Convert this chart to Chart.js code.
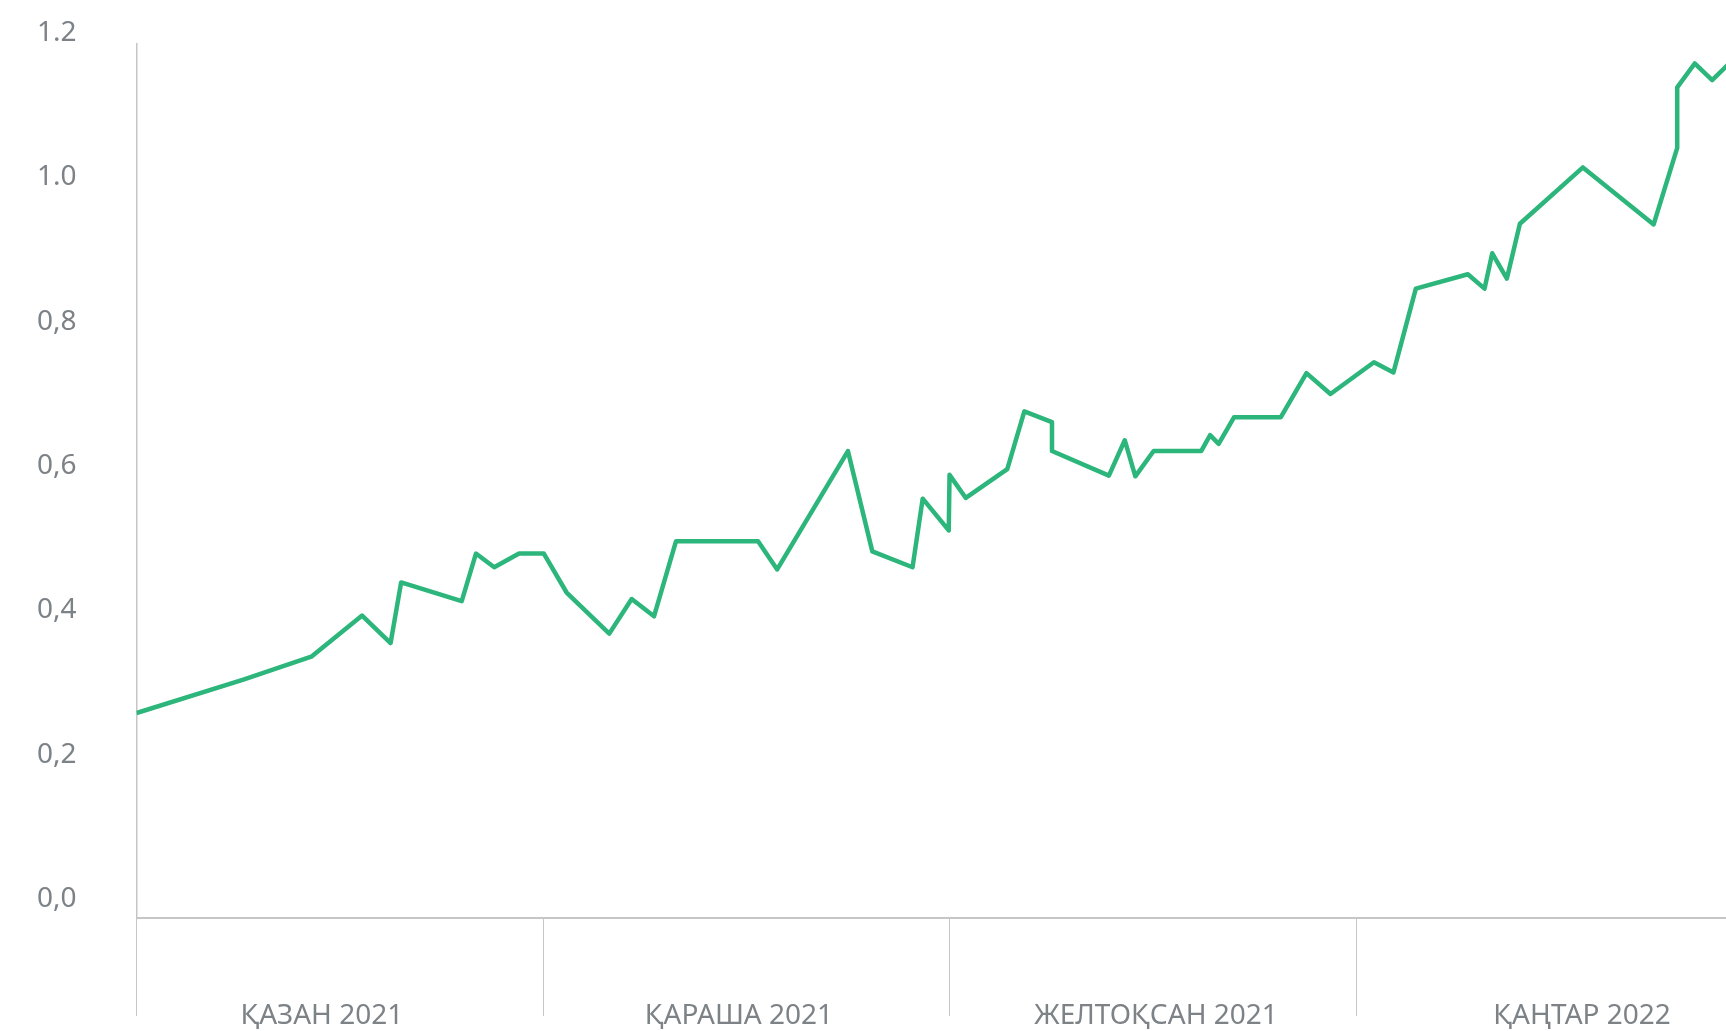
<!DOCTYPE html>
<html>
<head>
<meta charset="utf-8">
<script src="https://cdn.jsdelivr.net/npm/chart.js@4/dist/chart.umd.min.js"></script>
<style>
  html, body { margin: 0; padding: 0; background: #ffffff; }
  #graphCanvas { display: block; }
</style>
</head>
<body>
<canvas id="graphCanvas" width="1726" height="1031"></canvas>
<script>
// position along the time axis, in months from 1 Oct 2021 (each month = 1 unit)
const periodPos = [
    0, 0.261, 0.430, 0.555, 0.625, 0.651, 0.800, 0.835, 0.880, 0.941,
    1.002, 1.058, 1.163, 1.218, 1.273, 1.327, 1.529, 1.576, 1.750, 1.810,
    1.909, 1.934, 1.998, 2.000, 2.040, 2.142, 2.184, 2.252, 2.252, 2.392,
    2.431, 2.457, 2.502, 2.619, 2.641, 2.662, 2.700, 2.815, 2.878, 2.937,
    3.044, 3.092, 3.147, 3.275, 3.316, 3.335, 3.371, 3.403, 3.558, 3.732,
    3.790, 3.790, 3.833, 3.876, 3.929
];
const seriesValues = [
    0.284, 0.330, 0.362, 0.419, 0.381, 0.465, 0.439, 0.505, 0.486, 0.505,
    0.505, 0.451, 0.394, 0.442, 0.418, 0.522, 0.522, 0.483, 0.647, 0.508,
    0.486, 0.581, 0.537, 0.614, 0.582, 0.622, 0.702, 0.687, 0.647, 0.613,
    0.662, 0.612, 0.647, 0.647, 0.669, 0.657, 0.694, 0.694, 0.755, 0.726,
    0.770, 0.756, 0.872, 0.892, 0.872, 0.921, 0.886, 0.962, 1.040, 0.961,
    1.067, 1.151, 1.184, 1.161, 1.190
];

const monthLabels = ["ҚАЗАН 2021", "ҚАРАША 2021", "ЖЕЛТОҚСАН 2021", "ҚАҢТАР 2022"];
const monthLabelPos = [0.456, 1.482, 2.508, 3.556];
const monthStarts = [0, 1, 2, 3];

const yTickValues = [0, 0.2, 0.4, 0.6, 0.8, 1.0, 1.2];
const yTickLabels = ["0,0", "0,2", "0,4", "0,6", "0,8", "1.0", "1.2"];

const lineColor = "#2cb67b";
const textColor = "#7d8286";
const axisColor = "#c6c6c6";

const graphCanvas = document.getElementById("graphCanvas");
const ctx = graphCanvas.getContext("2d");

let points = periodPos.map((p, i) => ({ x: p, y: seriesValues[i] }));

let chart = new Chart(ctx, {
    type: "line",
    data: {
        datasets: [{
            data: points,
            borderColor: lineColor,
            borderWidth: 4.5,
            borderJoinStyle: "round",
            pointRadius: 0,
            tension: 0,
            fill: false,
        }],
    },
    options: {
        responsive: false,
        animation: false,
        devicePixelRatio: 1,
        layout: {
            padding: { left: 37, top: 44, right: 0, bottom: 0 },
        },
        plugins: {
            legend: { display: false },
            tooltip: { enabled: false },
        },
        scales: {
            x: {
                type: "linear",
                position: "bottom",
                min: 0,
                max: 3.910,
                afterBuildTicks: (axis) => {
                    let vals = monthStarts.concat(monthLabelPos).sort((a, b) => a - b);
                    axis.ticks = vals.map((v) => ({ value: v }));
                },
                afterFit: (axis) => { axis.height = 113; },
                border: { display: true, color: axisColor, width: 2 },
                grid: {
                    drawOnChartArea: false,
                    drawTicks: true,
                    tickLength: 98,
                    lineWidth: 1,
                    color: (c) => (c.tick && monthStarts.includes(c.tick.value)) ? axisColor : "rgba(0,0,0,0)",
                },
                ticks: {
                    autoSkip: false,
                    maxRotation: 0,
                    padding: -17,
                    color: textColor,
                    font: { family: "Noto Sans", size: 28 },
                    callback: (value) => {
                        let idx = monthLabelPos.indexOf(value);
                        return idx >= 0 ? monthLabels[idx] : "";
                    },
                },
            },
            y: {
                type: "linear",
                min: 0,
                max: 1.211,
                afterBuildTicks: (axis) => {
                    axis.ticks = yTickValues.map((v) => ({ value: v }));
                },
                afterFit: (axis) => { axis.width = 99.5; },
                border: { display: true, color: axisColor, width: 1.5 },
                grid: { drawOnChartArea: false, drawTicks: false },
                ticks: {
                    crossAlign: "far",
                    labelOffset: -19,
                    color: textColor,
                    font: { family: "Noto Sans", size: 28 },
                    callback: (value) => {
                        let idx = yTickValues.indexOf(value);
                        return idx >= 0 ? yTickLabels[idx] : "";
                    },
                },
            },
        },
    },
});
</script>
</body>
</html>
